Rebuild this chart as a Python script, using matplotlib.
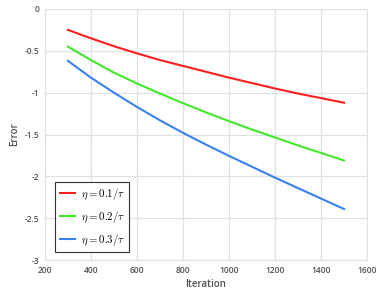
import matplotlib
matplotlib.use("Agg")
import matplotlib.pyplot as plt

iterations = [300, 400, 500, 600, 700, 800, 900, 1000, 1100, 1200, 1300, 1400, 1500]
err_01 = [-0.25, -0.35, -0.445, -0.53, -0.61, -0.68, -0.75, -0.82, -0.885, -0.95, -1.01, -1.065, -1.12]
err_02 = [-0.45, -0.61, -0.76, -0.89, -1.01, -1.125, -1.235, -1.34, -1.44, -1.535, -1.63, -1.72, -1.81]
err_03 = [-0.62, -0.82, -1.00, -1.17, -1.33, -1.48, -1.62, -1.755, -1.885, -2.015, -2.14, -2.265, -2.39]
labels = [r"$\eta = 0.1/\tau$", r"$\eta = 0.2/\tau$", r"$\eta = 0.3/\tau$"]
colors = ["#ff1f1f", "#42e82a", "#3a80f0"]

plt.rcParams["mathtext.fontset"] = "cm"
plt.rcParams["font.family"] = ["Open Sans", "DejaVu Sans"]

fig = plt.figure(figsize=(3.84, 3.0), dpi=100)
ax = fig.add_axes([0.117, 0.133, 0.839, 0.837])

for ys, lab, c in zip([err_01, err_02, err_03], labels, colors):
    ax.plot(iterations, ys, color=c, lw=1.5, label=lab)

ax.set_xlim(200, 1600)
ax.set_ylim(-3, 0)
ax.set_xticks(range(200, 1601, 200))
ax.set_yticks([0, -0.5, -1, -1.5, -2, -2.5, -3])
ax.set_yticklabels(["0", "-0.5", "-1", "-1.5", "-2", "-2.5", "-3"])
ax.grid(True, color="#dde3e3", lw=0.9)
ax.set_axisbelow(True)
for s in ax.spines.values():
    s.set_color("#dde3e3")
ax.tick_params(length=0, labelsize=6, colors="#505050", pad=4)
for t in ax.get_xticklabels() + ax.get_yticklabels():
    t.set_fontweight("semibold")
ax.set_xlabel("Iteration", fontsize=7, color="#505050", labelpad=3, fontweight="semibold")
ax.set_ylabel("Error", fontsize=7, color="#505050", labelpad=3, fontweight="semibold")

leg = ax.legend(loc="lower left", bbox_to_anchor=(0.022, 0.018), fontsize=7.8,
                fancybox=False, edgecolor="#333333", framealpha=1,
                handlelength=1.4, borderpad=0.4, labelspacing=0.65,
                handletextpad=0.55, borderaxespad=0.3)
leg.get_frame().set_linewidth(0.8)

fig.savefig("out.png", dpi=100)
